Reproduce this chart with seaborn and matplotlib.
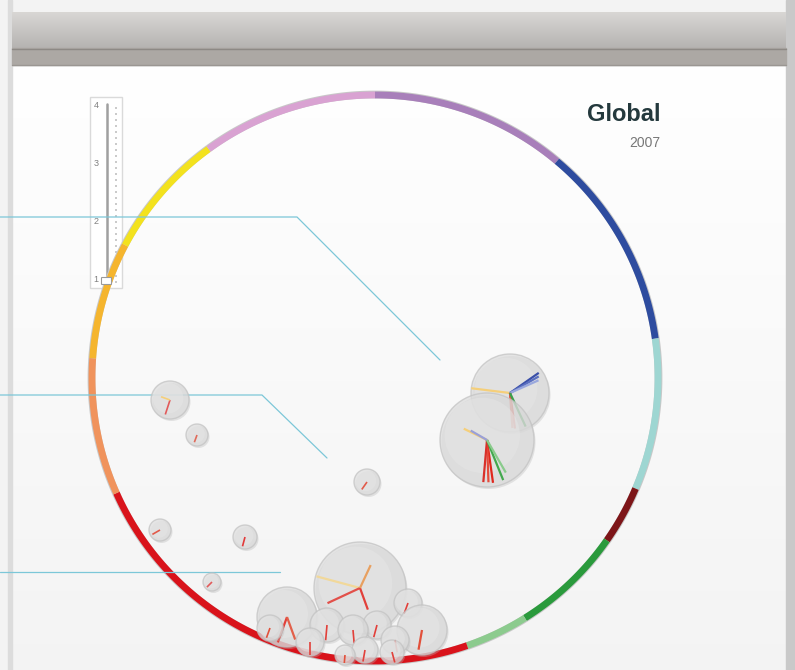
import numpy as np
import matplotlib
matplotlib.use("Agg")
import matplotlib.pyplot as plt
from matplotlib.patches import Circle, Rectangle, FancyBboxPatch
import seaborn as sns

# ring segments: start / end angle (degrees clockwise from top) and colour
seg_start = [0, 40, 82, 113, 125, 148, 161, 246, 274, 298, 324]
seg_end = [40, 82, 113, 125, 148, 161, 246, 274, 298, 324, 360]
seg_color = ['#a87fba', '#2e4c9f', '#9ed6d2', '#7d1518', '#2a9a3c', '#8ccb8e',
             '#d9131b', '#f0935c', '#f5b52e', '#f3e21e', '#d9a2d2']
ring_cx, ring_cy, ring_r = 375, 378, 283

# bubbles (centre x, centre y, radius) in page pixels
bub_x = [510, 487, 367, 170, 197, 160, 245, 212,
         360, 287, 422, 327, 353, 377, 395, 270, 310, 365, 392, 345, 408]
bub_y = [393, 440, 482, 400, 435, 530, 537, 582,
         588, 617, 630, 625, 630, 625, 640, 628, 642, 650, 652, 655, 603]
bub_r = [39, 47, 13, 19, 11, 11, 12, 9,
         46, 30, 25, 17, 15, 14, 14, 13, 14, 13, 12, 10, 14]

# spokes inside bubbles: bubble index, angle, length fraction, colour
spk_bub = [0, 0, 0, 0, 0, 0, 0, 1, 1, 1, 1, 1, 1, 1,
           2, 3, 3, 4, 5, 6, 7, 8, 8, 8, 8, 9, 9, 10, 11, 12, 13, 14, 15, 16, 17, 18, 19, 20]
spk_ang = [277, 55, 60, 66, 172, 176, 155, 296, 172, 178, 185, 158, 150, 300,
           215, 198, 290, 200, 240, 195, 225, 285, 245, 160, 25, 200, 160, 190, 185, 175, 195, 170, 200, 180, 190, 165, 185, 200]
spk_len = [1.0, 0.9, 0.85, 0.8, 0.92, 0.9, 0.95, 0.55, 0.92, 0.9, 0.9, 0.92, 0.8, 0.4,
           0.7, 0.8, 0.5, 0.7, 0.8, 0.8, 0.8, 0.98, 0.78, 0.5, 0.55, 0.9, 0.8, 0.8, 0.9, 0.9, 0.9, 0.9, 0.8, 0.9, 0.9, 0.9, 0.8, 0.8]
spk_col = ['#f5cf7a', '#3a4fa8', '#5a6fc0', '#9aa8dd', '#e23a2a', '#e05a4a', '#3aa04a',
           '#f5cf7a', '#e0281e', '#e64a3a', '#d9302a', '#43a84e', '#8acb8c', '#9aa0d8',
           '#e25a4a', '#e25a5a', '#f5cf7a', '#e06a5a', '#e25a4a', '#e23a3a', '#e25a5a',
           '#f1d89a', '#e2504a', '#e2403a', '#e8a060', '#e2403a', '#e2604a', '#e2503a',
           '#e2403a', '#e2403a', '#e2403a', '#e2403a', '#e2503a', '#e2403a', '#e2403a',
           '#e2403a', '#e2503a', '#e2403a']

# callout lines (polyline vertices)
call_x = [[0, 297, 440], [0, 262, 327], [0, 280]]
call_y = [[217, 217, 360], [395, 395, 458], [572, 572]]

# slider
slider_labels = ['4', '3', '2', '1']
slider_label_y = [105, 163, 222, 279]

title = 'Global'
subtitle = '2007'

sns.set_theme(style='white')
plt.rcParams['font.family'] = ['Liberation Sans', 'DejaVu Sans']

fig = plt.figure(figsize=(7.95, 6.7), dpi=100)
ax = fig.add_axes([0, 0, 1, 1])
ax.set_xlim(0, 795)
ax.set_ylim(670, 0)
ax.axis('off')

# page background
ax.add_patch(Rectangle((0, 0), 795, 670, color='#f3f3f3', zorder=0))
grad = np.linspace(1.0, 0.955, 256)[:, None]
ax.imshow(np.dstack([grad, grad, grad]), extent=[12, 786, 670, 64], aspect='auto', zorder=1)
ax.add_patch(Rectangle((786, 0), 9, 670, color='#c9c9c9', zorder=1))
ax.add_patch(Rectangle((8, 0), 4, 670, color='#dcdcdc', zorder=1))

# header bar
hgrad = np.linspace(0.85, 0.71, 256)[:, None]
ax.imshow(np.dstack([hgrad, hgrad * 0.99, hgrad * 0.98]), extent=[12, 786, 48, 12],
          aspect='auto', zorder=2)
ax.add_patch(Rectangle((12, 48), 774, 17, color='#aca8a4', zorder=2))
ax.plot([12, 786], [48.5, 48.5], color='#8d8985', lw=1, zorder=3)
ax.plot([12, 786], [64.5, 64.5], color='#9a9692', lw=1, zorder=3)

# slider
ax.add_patch(Rectangle((90, 97), 32, 191, facecolor='white', edgecolor='#dadada', lw=1, zorder=4))
ax.plot([107, 107], [104, 284], color='#a0a0a0', lw=1.8, zorder=5)
tick_y = np.arange(108, 284, 6)
sns.scatterplot(x=np.full(len(tick_y), 116), y=tick_y, s=2, color='#bbbbbb',
                edgecolor='none', ax=ax, zorder=5, legend=False)
for lab, yy in zip(slider_labels, slider_label_y):
    ax.text(96, yy, lab, fontsize=6.5, color='#808080', ha='center', va='center', zorder=5)

# ring
for a0, a1, c in zip(seg_start, seg_end, seg_color):
    t = np.radians(np.linspace(a0, a1, 80))
    ax.plot(ring_cx + (ring_r + 0.5) * np.sin(t), ring_cy - (ring_r + 0.5) * np.cos(t),
            color='#c8c8c8', lw=5.6, solid_capstyle='butt', zorder=5)
    ax.plot(ring_cx + ring_r * np.sin(t), ring_cy - ring_r * np.cos(t),
            color=c, lw=4.9, solid_capstyle='butt', zorder=6)

ax.add_patch(FancyBboxPatch((102, 278), 9, 6, boxstyle='round,pad=0.5', facecolor='white',
                            edgecolor='#9a9a9a', lw=0.8, zorder=7))

# callouts
for xs, ys in zip(call_x, call_y):
    ax.plot(xs, ys, color='#7cc7d8', lw=0.9, zorder=7)

# bubbles, lower ones in front, semi-transparent
order = np.argsort(bub_y, kind='stable')
for k, i in enumerate(order):
    x, y, r = bub_x[i], bub_y[i], bub_r[i]
    z = 8 + k * 0.01
    ax.add_patch(Circle((x + 1.5, y + 2), r, color='#b8b8b8', alpha=0.35, lw=0, zorder=z))
    ax.add_patch(Circle((x, y), r, facecolor='#dcdcdc', edgecolor='#c2c2c2', lw=1.0,
                        alpha=0.72, zorder=z + 0.001))
    ax.add_patch(Circle((x - r * 0.1, y - r * 0.1), r * 0.8, facecolor='#e8e8e8',
                        edgecolor='none', alpha=0.45, zorder=z + 0.002))
    for b, a, f, c in zip(spk_bub, spk_ang, spk_len, spk_col):
        if b != i:
            continue
        t = np.radians(a)
        ax.plot([x, x + f * r * np.sin(t)], [y, y - f * r * np.cos(t)],
                color=c, lw=1.6 if r > 20 else 1.2, solid_capstyle='butt', zorder=z + 0.003)

# title
ax.text(660, 121, title, fontsize=17, fontweight='bold', color='#24393d',
        ha='right', va='baseline', zorder=11)
ax.text(660, 147, subtitle, fontsize=10, color='#777777', ha='right', va='baseline', zorder=11)

fig.savefig('out.png', dpi=100)
